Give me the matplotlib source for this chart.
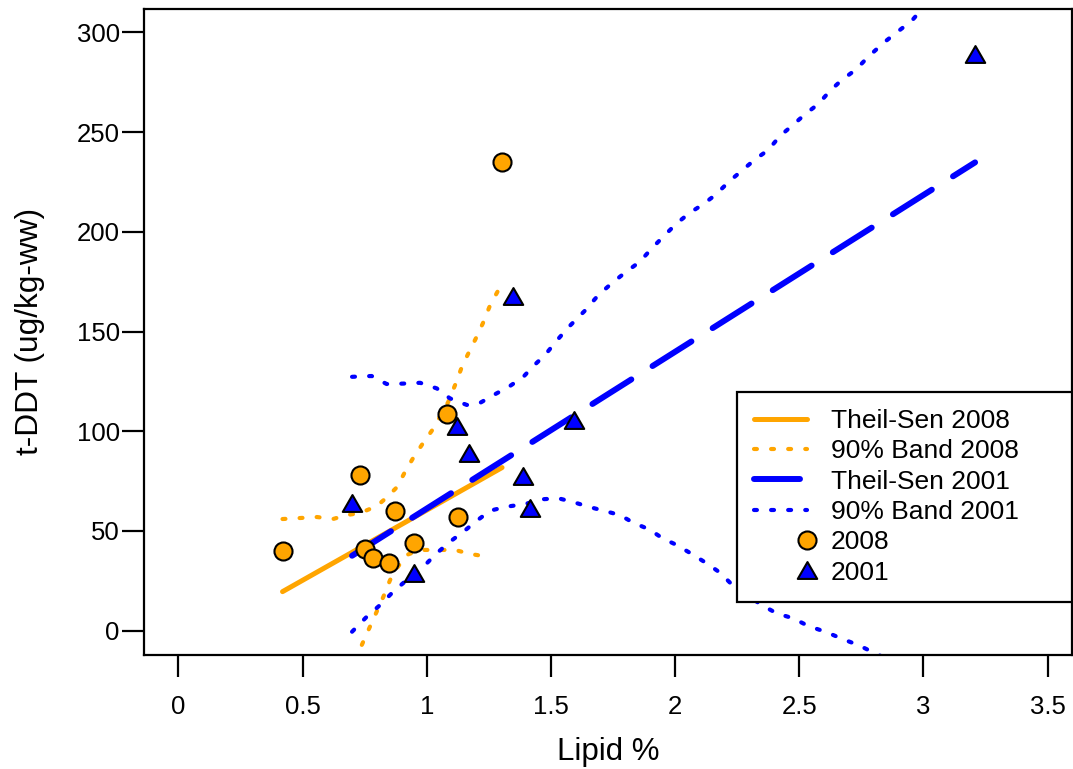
import numpy as np
import matplotlib
matplotlib.use('Agg')
import matplotlib.pyplot as plt
from matplotlib.path import Path
from matplotlib.legend_handler import HandlerLine2DCompound

plt.rcParams['font.family'] = ['Liberation Sans', 'DejaVu Sans']

# 2008 fish
lipid_2008 = [0.419, 0.732, 0.750, 0.785, 0.846, 0.872, 0.950, 1.081, 1.126, 1.303]
ddt_2008 = [39.8, 78.0, 40.8, 36.3, 34.1, 59.8, 43.8, 108.5, 56.9, 234.9]

# 2001 fish
lipid_2001 = [0.699, 0.947, 1.123, 1.170, 1.346, 1.389, 1.417, 1.593, 3.208]
ddt_2001 = [63.9, 28.8, 102.6, 88.9, 167.8, 77.6, 61.4, 105.6, 289.1]

# Theil-Sen fits (end points over the data range)
ts_2008_x = [0.419, 1.303]
ts_2008_y = [19.6, 81.8]
ts_2001_x = [0.699, 3.208]
ts_2001_y = [37.6, 234.8]

# 90% bands
band08_up_x = [0.419, 0.558, 0.622, 0.678, 0.731, 0.799, 0.840, 0.880, 0.912, 0.945,
               0.985, 1.025, 1.086, 1.114, 1.138, 1.162, 1.198, 1.226, 1.255, 1.295]
band08_up_y = [56.0, 57.0, 56.0, 58.0, 59.0, 62.5, 67.0, 72.0, 79.6, 86.6,
               94.1, 101.1, 114.6, 123.2, 131.2, 137.7, 146.7, 154.2, 163.2, 172.3]
band08_lo_x = [0.712, 0.738, 0.768, 0.798, 0.825, 0.852, 0.879, 0.919, 0.973, 1.046,
               1.114, 1.174, 1.250]
band08_lo_y = [-15.0, -7.2, 1.2, 9.5, 17.0, 25.4, 31.3, 38.0, 40.5, 40.5,
               40.5, 38.5, 37.0]

band01_up_x = [0.699, 0.778, 0.838, 0.905, 0.973, 1.040, 1.093, 1.161, 1.214, 1.271,
               1.335, 1.389, 1.429, 1.476, 1.523, 1.570, 1.637, 1.691, 1.745, 1.798,
               1.858, 1.906, 1.959, 2.006, 2.060, 2.114, 2.161, 2.221, 2.272, 2.322,
               2.375, 2.422, 2.474, 2.523, 2.577, 2.624, 2.671, 2.729, 2.778, 2.845,
               2.899, 2.953, 2.993, 3.208]
band01_up_y = [127.3, 127.7, 123.7, 123.9, 124.3, 121.5, 116.5, 113.2, 114.2, 118.3,
               122.7, 127.3, 132.7, 138.2, 145.4, 152.1, 160.5, 168.3, 174.2, 179.5,
               185.0, 191.7, 198.4, 204.2, 209.6, 213.9, 218.4, 225.6, 231.0, 236.3,
               241.0, 248.0, 253.5, 258.9, 264.1, 270.7, 276.1, 281.4, 287.8, 295.3,
               300.6, 305.8, 311.5, 335.0]
band01_lo_x = [0.699, 0.758, 0.812, 0.865, 0.919, 0.973, 1.037, 1.093, 1.147, 1.201,
               1.255, 1.322, 1.395, 1.463, 1.530, 1.590, 1.650, 1.711, 1.778, 1.832,
               1.896, 1.950, 2.006, 2.067, 2.127, 2.181, 2.237, 2.349, 2.409, 2.476,
               2.536, 2.611, 2.677, 2.738, 2.805, 3.208]
band01_lo_y = [-0.5, 7.0, 12.9, 19.6, 25.4, 30.4, 38.5, 44.6, 49.6, 55.1,
               60.2, 62.2, 63.5, 65.9, 66.4, 64.5, 62.2, 60.2, 58.0, 54.1,
               50.8, 46.3, 43.0, 38.5, 33.8, 29.1, 22.1, 12.9, 8.7, 6.2,
               2.4, -0.8, -4.3, -7.2, -11.3, -35.0]

xticks = [0, 0.5, 1, 1.5, 2, 2.5, 3, 3.5]
xtick_labels = ['0', '0.5', '1', '1.5', '2', '2.5', '3', '3.5']
yticks = [0, 50, 100, 150, 200, 250, 300]

ORANGE = '#FFA500'
BLUE = '#0000FF'

dot = (0.7, 3.4)
longdash = (7.7, 4.2)

# equilateral triangle like R's pch = 24
tri = Path([(0, 0.866), (-1, -0.866), (1, -0.866), (0, 0.866)],
           [Path.MOVETO, Path.LINETO, Path.LINETO, Path.CLOSEPOLY])


class HandlerMarkerRight(HandlerLine2DCompound):
    # put the symbol at the right end of the key, like R's legend()
    def get_xdata(self, legend, xdescent, ydescent, width, height, fontsize):
        xdata = np.array([-xdescent, -xdescent + width])
        return xdata, np.array([-xdescent + width])


fig = plt.figure(figsize=(10.73, 7.69), dpi=100)
ax = fig.add_axes([0.1339, 0.1486, 0.8651, 0.8397])

l1, = ax.plot(ts_2008_x, ts_2008_y, color=ORANGE, lw=3.6, solid_capstyle='round',
              label='Theil-Sen 2008', zorder=2)
l2, = ax.plot(band08_up_x, band08_up_y, color=ORANGE, lw=3.0, dashes=dot,
              dash_capstyle='round', label='90% Band 2008', zorder=2)
ax.plot(band08_lo_x, band08_lo_y, color=ORANGE, lw=3.0, dashes=dot,
        dash_capstyle='round', zorder=2)
l3, = ax.plot(ts_2001_x, ts_2001_y, color=BLUE, lw=4.3, dashes=longdash,
              dash_capstyle='round', label='Theil-Sen 2001', zorder=2.2)
l4, = ax.plot(band01_up_x, band01_up_y, color=BLUE, lw=3.0, dashes=dot,
              dash_capstyle='round', label='90% Band 2001', zorder=2.1)
ax.plot(band01_lo_x, band01_lo_y, color=BLUE, lw=3.0, dashes=dot,
        dash_capstyle='round', zorder=2.1)

p1, = ax.plot(lipid_2008, ddt_2008, linestyle='none', marker='o', ms=13,
              mfc=ORANGE, mec='black', mew=1.5, label='2008', zorder=3)
p2, = ax.plot(lipid_2001, ddt_2001, linestyle='none', marker=tri, ms=14,
              mfc=BLUE, mec='black', mew=1.5, label='2001', zorder=4)

ax.set_xlim(-0.1402, 3.598)
ax.set_ylim(-12.03, 311.7)
ax.set_xticks(xticks)
ax.set_xticklabels(xtick_labels)
ax.set_yticks(yticks)
ax.tick_params(direction='out', length=15.8, width=1.6, labelsize=18.5, color='black')
ax.tick_params(axis='x', pad=13)
ax.tick_params(axis='y', pad=1.5)
for s in ax.spines.values():
    s.set_linewidth(1.6)

ax.set_xlabel('Lipid %', fontsize=22.5)
ax.xaxis.set_label_coords(0.5, -0.1275)
ax.set_ylabel('t-DDT (ug/kg-ww)', fontsize=22.8, va='center')
ax.yaxis.set_label_coords(-0.1225, 0.5)

leg = ax.legend(handles=[l1, l2, l3, l4, p1, p2], loc='upper left',
                bbox_to_anchor=(0.6395, 0.0847, 0.3605, 0.3226), mode='expand',
                borderaxespad=0, fontsize=19, handlelength=2.0, handletextpad=0.9,
                borderpad=0.65, labelspacing=0.24, fancybox=False, framealpha=1,
                edgecolor='black',
                handler_map={p1: HandlerMarkerRight(), p2: HandlerMarkerRight()})
leg.get_frame().set_linewidth(1.6)

fig.savefig('out.png', dpi=100)
